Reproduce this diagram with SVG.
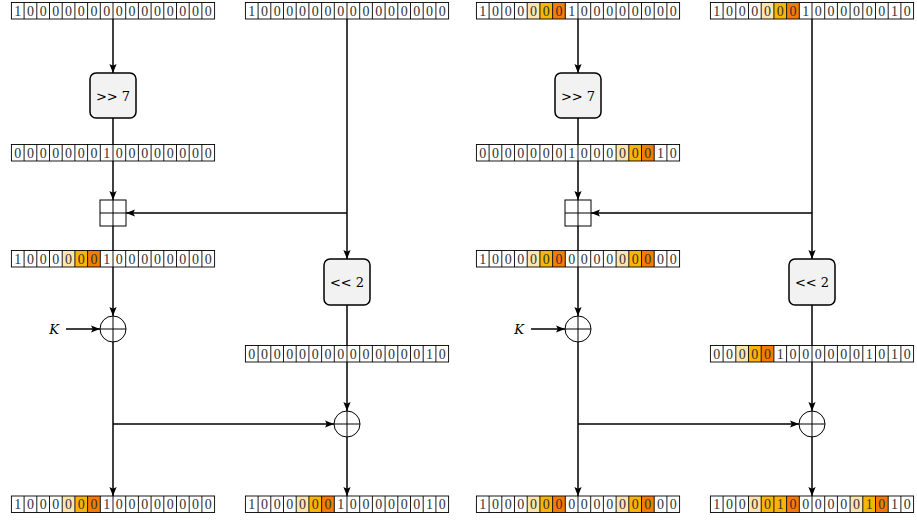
<svg xmlns="http://www.w3.org/2000/svg" xmlns:xlink="http://www.w3.org/1999/xlink" width="917" height="520" viewBox="0 0 917 520">
<style>
.bg{fill:#ffffff}
.L{fill:#FCE5AF}
.M{fill:#FBB400}
.D{fill:#F77B00}
.grid{fill:none;stroke:#000;stroke-width:0.9}
.bits{font-family:'Liberation Serif','Times New Roman',Times,serif;font-size:14px;fill:#333;text-anchor:middle}
.op{fill:#F2F2F2;stroke:#000;stroke-width:1.5}
.opt{font-family:'DejaVu Serif','Liberation Serif',serif;font-size:13px;fill:#000;text-anchor:middle}
.kt{font-family:'DejaVu Serif','Liberation Serif',serif;font-size:13px;font-style:italic;fill:#000;text-anchor:middle}
.sym{fill:#fff;stroke:#000;stroke-width:1}
.conn{fill:none;stroke:#000;stroke-width:1.5}
</style>
<defs>
<marker id="ah" viewBox="0 0 10 8" refX="10" refY="4" markerWidth="9" markerHeight="7.2" markerUnits="userSpaceOnUse" orient="auto">
<path d="M0 0 L10 4 L0 8 L2 4 z" fill="#000"/>
</marker>
<g id="grid16">
<rect class="grid" x="0" y="0" width="203.2" height="16.5"/>
<path class="grid" d="M12.7 0v16.5M25.4 0v16.5M38.1 0v16.5M50.8 0v16.5M63.5 0v16.5M76.2 0v16.5M88.9 0v16.5M101.6 0v16.5M114.3 0v16.5M127 0v16.5M139.7 0v16.5M152.4 0v16.5M165.1 0v16.5M177.8 0v16.5M190.5 0v16.5"/>
</g>
</defs>

<g id="connectors">
<path class="conn" d="M113 19V73" marker-end="url(#ah)"/>
<path class="conn" d="M113 118V200" marker-end="url(#ah)"/>
<path class="conn" d="M113 226V316" marker-end="url(#ah)"/>
<path class="conn" d="M113 342V496" marker-end="url(#ah)"/>
<path class="conn" d="M347 19V259" marker-end="url(#ah)"/>
<path class="conn" d="M347 213H126" marker-end="url(#ah)"/>
<path class="conn" d="M347 305V411" marker-end="url(#ah)"/>
<path class="conn" d="M347 437V496" marker-end="url(#ah)"/>
<path class="conn" d="M113 424H334" marker-end="url(#ah)"/>
<path class="conn" d="M66 329H100" marker-end="url(#ah)"/>

<path class="conn" d="M578 19V73" marker-end="url(#ah)"/>
<path class="conn" d="M578 118V200" marker-end="url(#ah)"/>
<path class="conn" d="M578 226V316" marker-end="url(#ah)"/>
<path class="conn" d="M578 342V496" marker-end="url(#ah)"/>
<path class="conn" d="M812 19V259" marker-end="url(#ah)"/>
<path class="conn" d="M812 213H591" marker-end="url(#ah)"/>
<path class="conn" d="M812 305V411" marker-end="url(#ah)"/>
<path class="conn" d="M812 437V496" marker-end="url(#ah)"/>
<path class="conn" d="M578 424H799" marker-end="url(#ah)"/>
<path class="conn" d="M531 329H565" marker-end="url(#ah)"/>
</g>

<!-- Left diagram -->
<g id="a-top" transform="translate(11.4,2.5)">
<rect class="bg" width="203.2" height="16.5"/>
<use xlink:href="#grid16"/>
<text class="bits" y="13" x="6.35 19.05 31.75 44.45 57.15 69.85 82.55 95.25 107.95 120.65 133.35 146.05 158.75 171.45 184.15 196.85">1000000000000000</text>
</g>
<g id="b-top" transform="translate(245.4,2.5)">
<rect class="bg" width="203.2" height="16.5"/>
<use xlink:href="#grid16"/>
<text class="bits" y="13" x="6.35 19.05 31.75 44.45 57.15 69.85 82.55 95.25 107.95 120.65 133.35 146.05 158.75 171.45 184.15 196.85">1000000000000000</text>
</g>
<g id="a-shr">
<rect class="op" x="90" y="73" width="46" height="45" rx="6"/>
<text class="opt" x="113" y="100.5">&gt;&gt; 7</text>
</g>
<g id="a-mid" transform="translate(11.4,144.5)">
<rect class="bg" width="203.2" height="16.5"/>
<use xlink:href="#grid16"/>
<text class="bits" y="13" x="6.35 19.05 31.75 44.45 57.15 69.85 82.55 95.25 107.95 120.65 133.35 146.05 158.75 171.45 184.15 196.85">0000000100000000</text>
</g>
<g id="a-add">
<rect class="sym" x="100" y="200" width="26" height="26"/>
<path class="sym" d="M113 200V226M100 213H126"/>
</g>
<g id="a-sum" transform="translate(11.4,250.5)">
<rect class="bg" width="203.2" height="16.5"/>
<rect class="L" x="50.8" width="12.7" height="16.5"/><rect class="M" x="63.5" width="12.7" height="16.5"/><rect class="D" x="76.2" width="12.7" height="16.5"/>
<use xlink:href="#grid16"/>
<text class="bits" y="13" x="6.35 19.05 31.75 44.45 57.15 69.85 82.55 95.25 107.95 120.65 133.35 146.05 158.75 171.45 184.15 196.85">1000000100000000</text>
</g>
<g id="a-shl">
<rect class="op" x="324" y="259" width="46" height="46" rx="6"/>
<text class="opt" x="347" y="287">&lt;&lt; 2</text>
</g>
<g id="a-k">
<text class="kt" x="54" y="334">K</text>
</g>
<g id="a-xork">
<circle class="sym" cx="113" cy="329" r="13"/>
<path class="sym" d="M113 316V342M100 329H126"/>
</g>
<g id="b-sh" transform="translate(245.4,345.5)">
<rect class="bg" width="203.2" height="16.5"/>
<use xlink:href="#grid16"/>
<text class="bits" y="13" x="6.35 19.05 31.75 44.45 57.15 69.85 82.55 95.25 107.95 120.65 133.35 146.05 158.75 171.45 184.15 196.85">0000000000000010</text>
</g>
<g id="a-xor">
<circle class="sym" cx="347" cy="424" r="13"/>
<path class="sym" d="M347 411V437M334 424H360"/>
</g>
<g id="a-out" transform="translate(11.4,496)">
<rect class="bg" width="203.2" height="16.5"/>
<rect class="L" x="50.8" width="12.7" height="16.5"/><rect class="M" x="63.5" width="12.7" height="16.5"/><rect class="D" x="76.2" width="12.7" height="16.5"/>
<use xlink:href="#grid16"/>
<text class="bits" y="13" x="6.35 19.05 31.75 44.45 57.15 69.85 82.55 95.25 107.95 120.65 133.35 146.05 158.75 171.45 184.15 196.85">1000000100000000</text>
</g>
<g id="b-out" transform="translate(245.4,496)">
<rect class="bg" width="203.2" height="16.5"/>
<rect class="L" x="50.8" width="12.7" height="16.5"/><rect class="M" x="63.5" width="12.7" height="16.5"/><rect class="D" x="76.2" width="12.7" height="16.5"/>
<use xlink:href="#grid16"/>
<text class="bits" y="13" x="6.35 19.05 31.75 44.45 57.15 69.85 82.55 95.25 107.95 120.65 133.35 146.05 158.75 171.45 184.15 196.85">1000000100000010</text>
</g>

<!-- Right diagram -->
<g id="c-top" transform="translate(476.4,2.5)">
<rect class="bg" width="203.2" height="16.5"/>
<rect class="L" x="50.8" width="12.7" height="16.5"/><rect class="M" x="63.5" width="12.7" height="16.5"/><rect class="D" x="76.2" width="12.7" height="16.5"/>
<use xlink:href="#grid16"/>
<text class="bits" y="13" x="6.35 19.05 31.75 44.45 57.15 69.85 82.55 95.25 107.95 120.65 133.35 146.05 158.75 171.45 184.15 196.85">1000000100000000</text>
</g>
<g id="d-top" transform="translate(710.4,2.5)">
<rect class="bg" width="203.2" height="16.5"/>
<rect class="L" x="50.8" width="12.7" height="16.5"/><rect class="M" x="63.5" width="12.7" height="16.5"/><rect class="D" x="76.2" width="12.7" height="16.5"/>
<use xlink:href="#grid16"/>
<text class="bits" y="13" x="6.35 19.05 31.75 44.45 57.15 69.85 82.55 95.25 107.95 120.65 133.35 146.05 158.75 171.45 184.15 196.85">1000000100000010</text>
</g>
<g id="c-shr">
<rect class="op" x="555" y="73" width="46" height="45" rx="6"/>
<text class="opt" x="578" y="100.5">&gt;&gt; 7</text>
</g>
<g id="c-mid" transform="translate(476.4,144.5)">
<rect class="bg" width="203.2" height="16.5"/>
<rect class="L" x="139.7" width="12.7" height="16.5"/><rect class="M" x="152.4" width="12.7" height="16.5"/><rect class="D" x="165.1" width="12.7" height="16.5"/>
<use xlink:href="#grid16"/>
<text class="bits" y="13" x="6.35 19.05 31.75 44.45 57.15 69.85 82.55 95.25 107.95 120.65 133.35 146.05 158.75 171.45 184.15 196.85">0000000100000010</text>
</g>
<g id="c-add">
<rect class="sym" x="565" y="200" width="26" height="26"/>
<path class="sym" d="M578 200V226M565 213H591"/>
</g>
<g id="c-sum" transform="translate(476.4,250.5)">
<rect class="bg" width="203.2" height="16.5"/>
<rect class="L" x="50.8" width="12.7" height="16.5"/><rect class="M" x="63.5" width="12.7" height="16.5"/><rect class="D" x="76.2" width="12.7" height="16.5"/>
<rect class="L" x="139.7" width="12.7" height="16.5"/><rect class="M" x="152.4" width="12.7" height="16.5"/><rect class="D" x="165.1" width="12.7" height="16.5"/>
<use xlink:href="#grid16"/>
<text class="bits" y="13" x="6.35 19.05 31.75 44.45 57.15 69.85 82.55 95.25 107.95 120.65 133.35 146.05 158.75 171.45 184.15 196.85">1000000000000000</text>
</g>
<g id="c-shl">
<rect class="op" x="789" y="259" width="46" height="46" rx="6"/>
<text class="opt" x="812" y="287">&lt;&lt; 2</text>
</g>
<g id="c-k">
<text class="kt" x="519" y="334">K</text>
</g>
<g id="c-xork">
<circle class="sym" cx="578" cy="329" r="13"/>
<path class="sym" d="M578 316V342M565 329H591"/>
</g>
<g id="d-sh" transform="translate(710.4,345.5)">
<rect class="bg" width="203.2" height="16.5"/>
<rect class="L" x="25.4" width="12.7" height="16.5"/><rect class="M" x="38.1" width="12.7" height="16.5"/><rect class="D" x="50.8" width="12.7" height="16.5"/>
<use xlink:href="#grid16"/>
<text class="bits" y="13" x="6.35 19.05 31.75 44.45 57.15 69.85 82.55 95.25 107.95 120.65 133.35 146.05 158.75 171.45 184.15 196.85">0000010000001010</text>
</g>
<g id="c-xor">
<circle class="sym" cx="812" cy="424" r="13"/>
<path class="sym" d="M812 411V437M799 424H825"/>
</g>
<g id="c-out" transform="translate(476.4,496)">
<rect class="bg" width="203.2" height="16.5"/>
<rect class="L" x="50.8" width="12.7" height="16.5"/><rect class="M" x="63.5" width="12.7" height="16.5"/><rect class="D" x="76.2" width="12.7" height="16.5"/>
<rect class="L" x="139.7" width="12.7" height="16.5"/><rect class="M" x="152.4" width="12.7" height="16.5"/><rect class="D" x="165.1" width="12.7" height="16.5"/>
<use xlink:href="#grid16"/>
<text class="bits" y="13" x="6.35 19.05 31.75 44.45 57.15 69.85 82.55 95.25 107.95 120.65 133.35 146.05 158.75 171.45 184.15 196.85">1000000000000000</text>
</g>
<g id="d-out" transform="translate(710.4,496)">
<rect class="bg" width="203.2" height="16.5"/>
<rect class="L" x="38.1" width="12.7" height="16.5"/><rect class="M" x="50.8" width="12.7" height="16.5"/><rect class="M" x="63.5" width="12.7" height="16.5"/><rect class="D" x="76.2" width="12.7" height="16.5"/>
<rect class="L" x="139.7" width="12.7" height="16.5"/><rect class="M" x="152.4" width="12.7" height="16.5"/><rect class="D" x="165.1" width="12.7" height="16.5"/>
<use xlink:href="#grid16"/>
<text class="bits" y="13" x="6.35 19.05 31.75 44.45 57.15 69.85 82.55 95.25 107.95 120.65 133.35 146.05 158.75 171.45 184.15 196.85">1000010000001010</text>
</g>
</svg>
